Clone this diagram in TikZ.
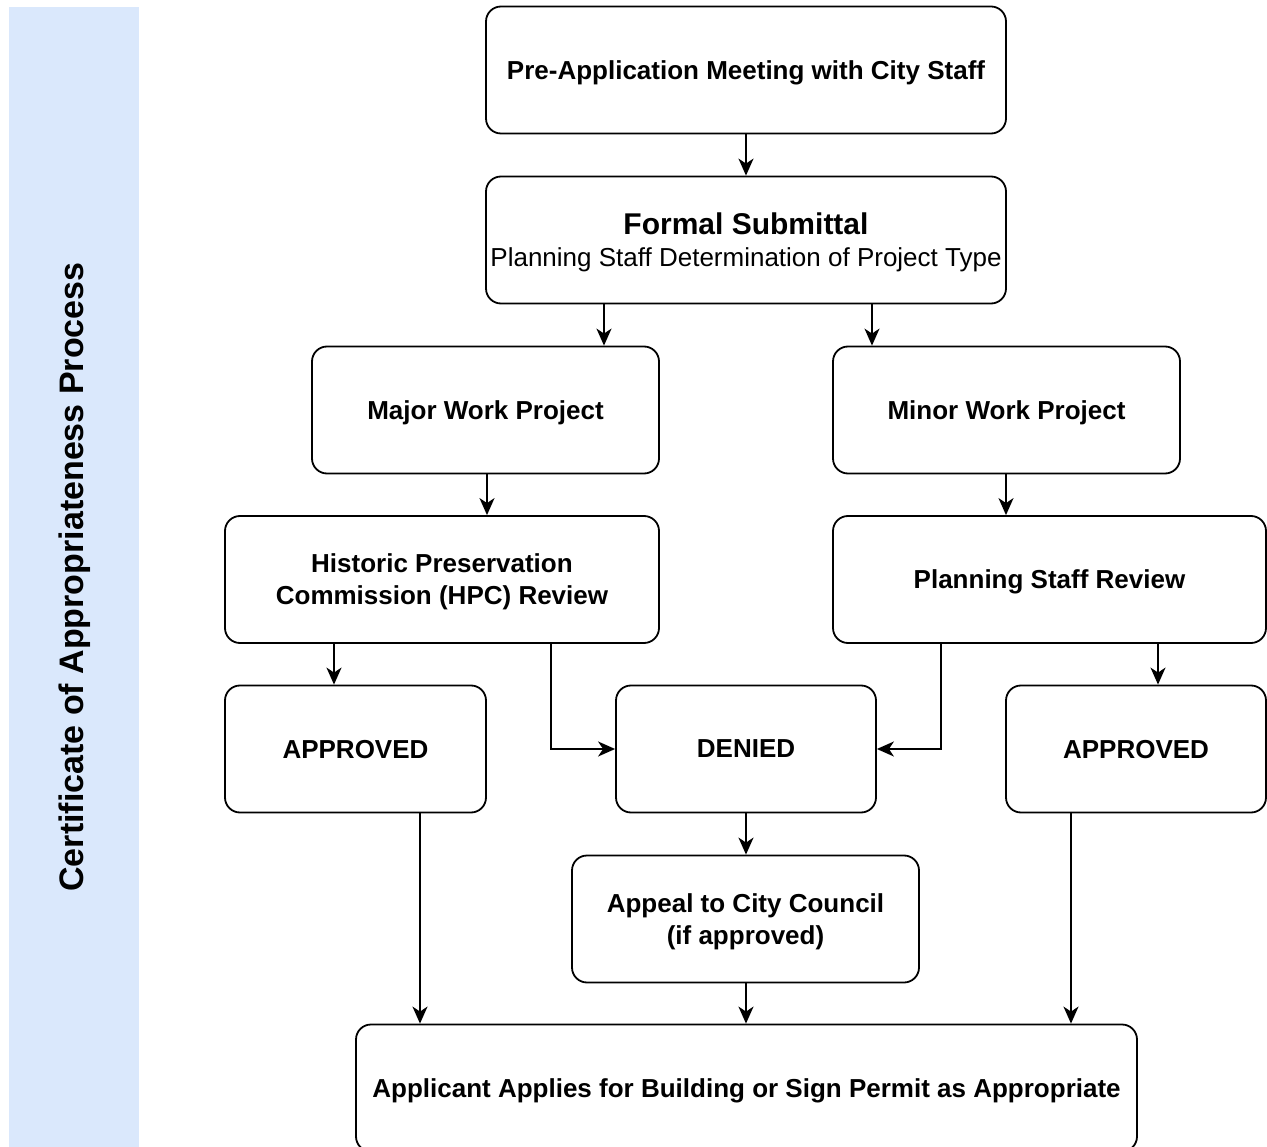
\documentclass[tikz,border=0pt]{standalone}
\usepackage{fontspec}
\setmainfont{Liberation Sans}
\usetikzlibrary{arrows.meta}
\definecolor{barblue}{HTML}{DAE8FC}
\tikzset{
  stepbox/.style={draw=black, line width=1.8pt, rounded corners=15pt, align=center,
    inner sep=0pt, text depth=0pt, font=\bfseries\fontsize{26}{32}\selectfont},
  flow/.style={-{Stealth[length=17pt, width=15pt, inset=5pt]}, line width=1.8pt}
}
\begin{document}
\begin{tikzpicture}[x=1pt, y=-1pt]
    % Frame
    \useasboundingbox (0,0) rectangle (1267,1147);
    \clip (0,0) rectangle (1267,1147);

    % Side bar
    \fill[barblue] (9,7) rectangle (139,1147);
    \node[rotate=90, font=\bfseries\fontsize{34}{40}\selectfont] (title) at (75,577)
      {Certificate of Appropriateness Process};

    % Boxes
    \node[stepbox, minimum width=520pt, minimum height=127pt] (pre) at (746,70)
      {Pre-Application Meeting with City Staff};
    \node[stepbox, minimum width=520pt, minimum height=127pt] (formal) at (746,240)
      {{\fontsize{30}{38}\selectfont Formal Submittal}\\
       {\mdseries Planning Staff Determination of Project Type}};
    \node[stepbox, minimum width=347pt, minimum height=127pt] (major) at (485.5,410)
      {Major Work Project};
    \node[stepbox, minimum width=347pt, minimum height=127pt] (minor) at (1006.5,410)
      {Minor Work Project};
    \node[stepbox, minimum width=434pt, minimum height=127pt] (hpc) at (442,579.5)
      {Historic Preservation\\Commission (HPC) Review};
    \node[stepbox, minimum width=433pt, minimum height=127pt] (psr) at (1049.5,579.5)
      {Planning Staff Review};
    \node[stepbox, minimum width=261pt, minimum height=127pt] (appL) at (355.5,749)
      {APPROVED};
    \node[stepbox, minimum width=260pt, minimum height=127pt] (denied) at (746,749)
      {DENIED};
    \node[stepbox, minimum width=260pt, minimum height=127pt] (appR) at (1136,749)
      {APPROVED};
    \node[stepbox, minimum width=347pt, minimum height=127pt] (appeal) at (745.5,919)
      {Appeal to City Council\\(if approved)};
    \node[stepbox, minimum width=781pt, minimum height=127pt] (permit) at (746.5,1088)
      {Applicant Applies for Building or Sign Permit as Appropriate};

    % Connectors
    \draw[flow] (pre) -- (formal);
    \draw[flow] ([xshift=-142pt]formal.south) -- ([xshift=-142pt]formal.south |- major.north);
    \draw[flow] ([xshift=126pt]formal.south) -- ([xshift=126pt]formal.south |- minor.north);
    \draw[flow] ([xshift=1.5pt]major.south) -- ([xshift=1.5pt]major.south |- hpc.north);
    \draw[flow] ([xshift=-0.5pt]minor.south) -- ([xshift=-0.5pt]minor.south |- psr.north);
    \draw[flow] ([xshift=-108pt]hpc.south) -- ([xshift=-108pt]hpc.south |- appL.north);
    \draw[flow] ([xshift=109pt]hpc.south) |- (denied.west);
    \draw[flow] ([xshift=-108.5pt]psr.south) |- (denied.east);
    \draw[flow] ([xshift=108.5pt]psr.south) -- ([xshift=108.5pt]psr.south |- appR.north);
    \draw[flow] (denied.south) -- (denied.south |- appeal.north);
    \draw[flow] ([xshift=64.5pt]appL.south) -- ([xshift=64.5pt]appL.south |- permit.north);
    \draw[flow] ([xshift=0.5pt]appeal.south) -- ([xshift=0.5pt]appeal.south |- permit.north);
    \draw[flow] ([xshift=-65pt]appR.south) -- ([xshift=-65pt]appR.south |- permit.north);
\end{tikzpicture}
\end{document}
